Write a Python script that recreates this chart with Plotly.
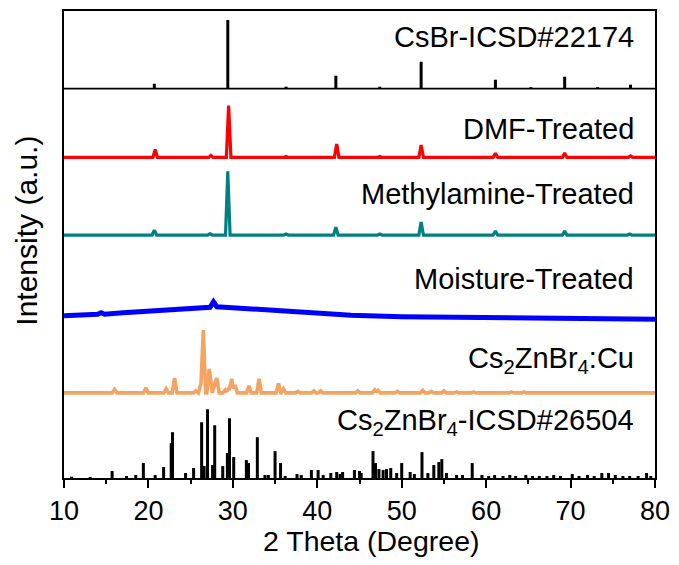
import plotly.graph_objects as go

# ---------------- data (2θ in degrees, intensity in a.u.) ----------------
# CsBr reference pattern, ICSD#22174 (stick pattern)
csbr_pos = [20.7, 29.4, 36.3, 42.2, 47.4, 52.3, 61.1, 65.3, 69.3, 73.2, 77.1]
csbr_int = [5, 69, 2, 13, 2, 27, 9, 1.5, 12, 1.5, 4]

# DMF-treated sample (peak list)
dmf_pos = [20.8, 27.4, 29.5, 36.3, 42.3, 47.4, 52.3, 61.1, 69.3, 77.1]
dmf_int = [8, 2, 52, 1, 13.5, 1, 12.5, 4, 4.5, 1.5]

# Methylamine-treated sample (peak list)
ma_pos = [20.7, 27.3, 29.4, 36.3, 42.2, 47.4, 52.3, 61.1, 69.3, 77.0]
ma_int = [5, 1.5, 64, 1, 8, 1, 13, 4, 4, 1]

# Moisture-treated sample (traced broad amorphous hump)
moist_x = [10, 12, 14, 14.4, 14.8, 17, 20, 20.3, 20.6, 24, 26, 27.3, 27.7, 28.1,
           29, 32, 36, 40, 44, 50, 60, 70, 80]
moist_y = [0, 0.5, 1.5, 3, 1.5, 3, 4.5, 5.5, 4.5, 7, 8, 8.5, 14, 9,
           8.5, 7, 5, 3, 0.5, -1, -1.5, -2.5, -3.5]

# Cs2ZnBr4:Cu sample (peak list)
cu_pos = [16.0, 19.7, 22.1, 23.1, 25.6, 26.2, 26.5, 27.2, 27.85, 28.1, 29.1, 29.5,
          29.85, 30.25, 31.9, 33.1, 35.4, 36.0, 37.7, 39.6, 40.4, 44.8, 46.8, 47.2,
          49.5, 52.5, 53.5, 55.0, 56.5, 58.5, 63.0, 64.5]
cu_int = [3.5, 5, 4, 15, 2, 9, 63, 24, 8, 14, 3, 4,
          14, 8, 7, 14, 9.5, 4, 1.5, 2, 2, 2, 3, 2.5,
          1.5, 2.5, 1.5, 2, 1, 1, 1, 1]

# Cs2ZnBr4 reference pattern, ICSD#26504 (stick pattern)
icsd_pos = [10.9, 13.1, 15.7, 17.4, 18.5, 19.4, 20.8, 21.8, 22.7, 22.85, 24.4, 25.35,
            26.3, 26.6, 27.0, 27.6, 27.85, 28.8, 29.35, 29.6, 30.1, 31.6, 31.85, 32.9,
            33.8, 34.2, 35.0, 35.65, 36.2, 37.6, 38.1, 39.3, 40.1, 40.7, 41.6, 42.3,
            42.7, 43.0, 44.4, 45.0, 45.2, 46.6, 46.9, 47.3, 47.8, 48.2, 48.7, 49.4,
            50.0, 51.0, 51.5, 52.4, 53.1, 53.8, 54.4, 54.75, 55.3, 56.5, 57.2, 58.35,
            59.5, 60.3, 61.0, 62.0, 62.8, 63.5, 64.7, 65.5, 66.3, 67.2, 68.0, 68.8,
            70.2, 71.0, 72.0, 72.8, 73.7, 74.5, 75.3, 76.2, 77.0, 78.0, 79.0, 79.5]
icsd_int = [1.3, 1, 7, 2, 3, 15, 3, 11, 35, 46, 5, 10,
            56, 12, 69, 13, 53, 12, 25, 60, 21, 18, 15, 41,
            3, 3, 27, 15, 2, 4, 3, 8, 8, 3, 5, 6,
            4, 6, 8, 7, 5, 27, 15, 9, 8, 9, 10, 5,
            15, 6, 4, 26, 5, 13, 16, 19, 5, 3, 3, 15,
            3, 2, 3, 2, 3, 2, 3, 2, 2, 2, 3, 2,
            4, 2, 3, 2, 5, 5, 3, 2, 2, 2, 5, 2]

labels = ["CsBr-ICSD#22174", "DMF-Treated", "Methylamine-Treated", "Moisture-Treated",
          "Cs<sub>2</sub>ZnBr<sub>4</sub>:Cu", "Cs<sub>2</sub>ZnBr<sub>4</sub>-ICSD#26504"]

# ---------------- layout constants ----------------
X_MIN, X_MAX = 10, 80
Y_TOP = 469
OFF = {"csbr": 391, "dmf": 322, "ma": 244, "moist": 163, "cu": 85.5, "icsd": 0}
LABEL_Y = [443, 351, 285, 200, 119, 56]
FONT = "Liberation Sans, Arial, sans-serif"


def sticks(pos, inten, base):
    xs, ys = [], []
    for p, h in zip(pos, inten):
        xs += [p, p, None]
        ys += [base, base + h, None]
    return xs, ys


def peaks_line(pos, inten, base, hw):
    pts = {X_MIN, X_MAX}
    for p in pos:
        pts.update([p - hw, p, p + hw])
    xs = sorted(x for x in pts if X_MIN <= x <= X_MAX)
    ys = []
    for x in xs:
        v = 0.0
        for p, h in zip(pos, inten):
            t = abs(x - p) / hw
            if t < 1:
                v += h * (1 - t)
        ys.append(base + v)
    return xs, ys


fig = go.Figure()

# CsBr reference: baseline + sticks
fig.add_trace(go.Scatter(x=[X_MIN, X_MAX], y=[OFF["csbr"]] * 2, mode="lines",
                         line=dict(color="black", width=1.6), showlegend=False, hoverinfo="skip"))
sx, sy = sticks(csbr_pos, csbr_int, OFF["csbr"])
fig.add_trace(go.Scatter(x=sx, y=sy, mode="lines", line=dict(color="black", width=3),
                         showlegend=False))

px, py = peaks_line(dmf_pos, dmf_int, OFF["dmf"], 0.27)
fig.add_trace(go.Scatter(x=px, y=py, mode="lines", line=dict(color="#FF0000", width=3.2),
                         showlegend=False))

px, py = peaks_line(ma_pos, ma_int, OFF["ma"], 0.27)
fig.add_trace(go.Scatter(x=px, y=py, mode="lines", line=dict(color="#008080", width=3.2),
                         showlegend=False))

fig.add_trace(go.Scatter(x=moist_x, y=[OFF["moist"] + v for v in moist_y], mode="lines",
                         line=dict(color="#0000FF", width=5), showlegend=False))

px, py = peaks_line(cu_pos, cu_int, OFF["cu"], 0.28)
fig.add_trace(go.Scatter(x=px, y=py, mode="lines", line=dict(color="#F4A460", width=3.6),
                         showlegend=False))

sx, sy = sticks(icsd_pos, icsd_int, OFF["icsd"])
fig.add_trace(go.Scatter(x=sx, y=sy, mode="lines", line=dict(color="black", width=3),
                         showlegend=False))

annotations = []
for txt, yv in zip(labels, LABEL_Y):
    annotations.append(dict(x=77.7, y=yv, xref="x", yref="y", text=txt, showarrow=False,
                            xanchor="right", yanchor="middle",
                            font=dict(family=FONT, size=29, color="black")))
annotations.append(dict(x=0.52, y=-0.135, xref="paper", yref="paper", text="2 Theta (Degree)",
                        showarrow=False, xanchor="center", yanchor="middle",
                        font=dict(family=FONT, size=28.5, color="black")))
annotations.append(dict(x=-0.064, y=0.53, xref="paper", yref="paper", text="Intensity (a.u.)",
                        showarrow=False, xanchor="center", yanchor="middle", textangle=-90,
                        font=dict(family=FONT, size=30, color="black")))

fig.update_layout(
    width=679, height=565,
    margin=dict(l=64, r=19, t=9, b=87),
    paper_bgcolor="white", plot_bgcolor="white",
    annotations=annotations,
    xaxis=dict(range=[X_MIN, X_MAX], dtick=10, tick0=10, ticks="outside", ticklen=8,
               tickwidth=1.6, tickcolor="black", showline=True, linecolor="black",
               linewidth=1.6, mirror=True, showgrid=False, zeroline=False,
               tickfont=dict(family=FONT, size=27, color="black"),
               minor=dict(dtick=5, tick0=10, ticks="outside", ticklen=4, tickwidth=1.6,
                          tickcolor="black", showgrid=False)),
    yaxis=dict(range=[0, Y_TOP], showticklabels=False, ticks="", showline=True,
               linecolor="black", linewidth=1.6, mirror=True, showgrid=False,
               zeroline=False),
)

fig.write_html("out.html")
